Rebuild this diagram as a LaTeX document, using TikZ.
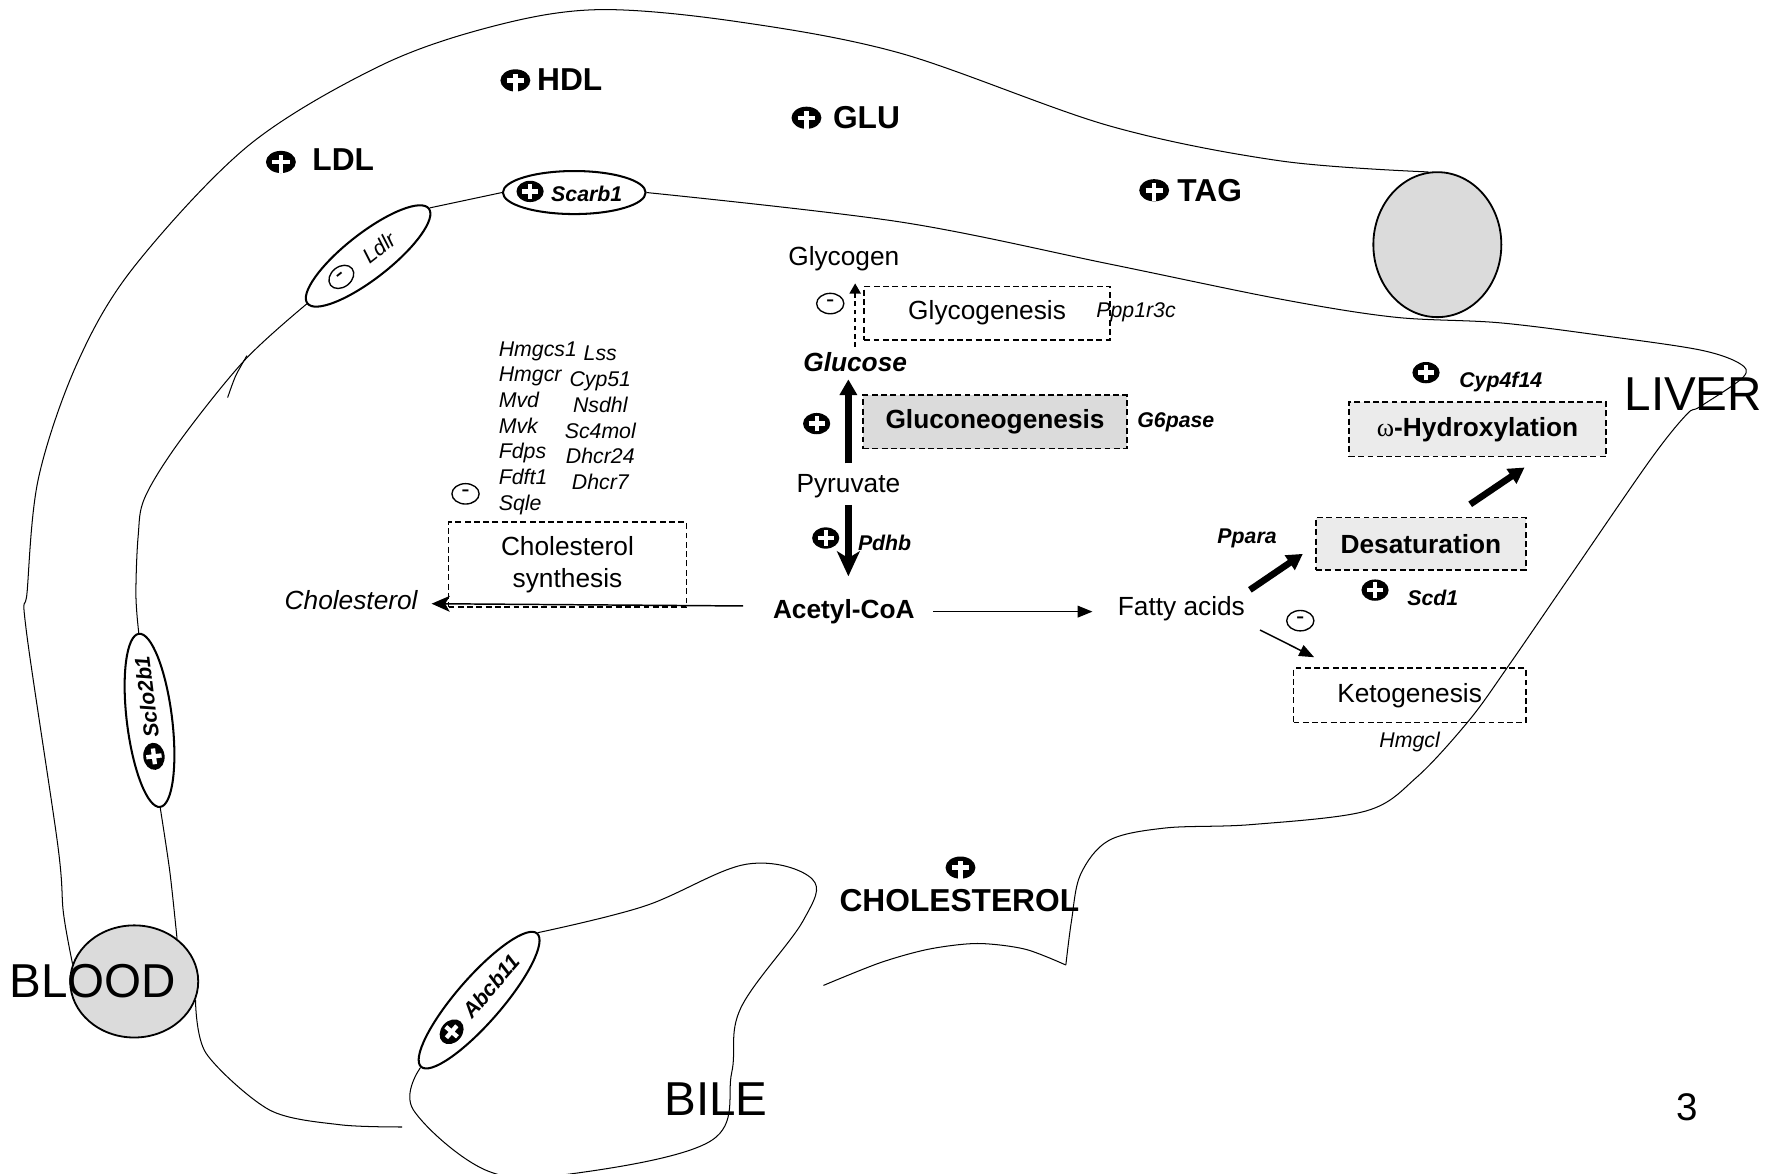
\documentclass[tikz,border=0pt]{standalone}
\usepackage{fontspec}
\setmainfont{Liberation Sans}
\newfontfamily\greekfont{Liberation Serif}
\usetikzlibrary{shapes,positioning,arrows.meta,calc}

\begin{document}
\begin{tikzpicture}[x=0.5pt, y=-0.5pt,
		txt/.style={inner sep=1pt, font=\fontsize{11.6}{14}\selectfont},
		boldtxt/.style={inner sep=1pt, font=\fontsize{11.6}{14}\selectfont\bfseries},
		gene/.style={inner sep=1pt, font=\fontsize{9.4}{11.35}\selectfont\itshape},
		bgene/.style={inner sep=1pt, font=\fontsize{9.4}{11.35}\selectfont\bfseries\itshape},
		bigbold/.style={inner sep=1pt, font=\fontsize{14}{16}\selectfont\bfseries},
		organ/.style={inner sep=0pt, font=\fontsize{21}{24}\selectfont},
		procbox/.style={rectangle, draw=black, line width=0.75pt, dash pattern=on 2.6pt off 1.5pt, inner sep=0pt, minimum height=23.5pt, font=\fontsize{11.6}{14}\selectfont},
		grayproc/.style={procbox, fill=black!8, font=\fontsize{11.6}{14}\selectfont\bfseries},
		transporter/.style={ellipse, draw=black, line width=0.9pt, fill=white, inner sep=0pt, minimum height=19pt},
		lumen/.style={ellipse, draw=black, line width=0.8pt, fill=black!14, inner sep=0pt},
		minusnode/.style={ellipse, draw=black, line width=0.6pt, inner sep=0pt, minimum width=12pt, minimum height=9pt, font=\fontsize{11}{11}\selectfont},
		membrane/.style={draw=black, line width=0.45pt},
		thinpath/.style={draw=black, line width=0.65pt, -{Triangle[length=6.6pt,width=5.2pt]}},
		thickpath/.style={draw=black, line width=2.9pt, -{Triangle[length=7pt,width=7.5pt]}},
		dashpath/.style={draw=black, line width=0.6pt, dash pattern=on 2pt off 1.6pt, -{Triangle[length=4.5pt,width=5pt]}},
		plusmark/.pic={
			\fill[black] (0,0) ellipse (6pt and 4.7pt);
			\draw[white, line width=1.9pt] (-3.5pt,0) -- (3.5pt,0) (0,-3.4pt) -- (0,3.4pt);
		},
		plustop/.pic={
			\fill[black] (0,0) ellipse (6.6pt and 4.9pt);
			\draw[white, line width=2pt] (-3.8pt,0) -- (3.8pt,0) (0,-4.9pt) -- (0,3pt);
		}
		]
		\useasboundingbox (0,0) rectangle (1568,1036.5);
		
		% Lumina
		\node[lumen, minimum width=56.5pt, minimum height=49.5pt] (blood) at (118.5,866.5) {};
		\node[lumen, minimum width=56.5pt, minimum height=64pt] (vessel) at (1269,216) {};
		
		% Transporters
		\begin{scope}[shift={(325,226)}, rotate=38, transform shape]
			\node[transporter, minimum width=68pt, minimum height=20pt] (ldlr) at (0,0) {};
			\node[minusnode] (ldlrminus) at (-15pt,0) {-};
			\node[gene] (ldlrname) at (6pt,0) {Ldlr};
		\end{scope}
		\node[transporter, minimum width=63pt] (scarb) at (507,170) {};
		\pic at (468,169) {plusmark};
		\node[bgene] (scarbname) at (518,171) {Scarb1};
		\begin{scope}[shift={(132,636)}, rotate=97, transform shape]
			\node[transporter, minimum width=77pt, minimum height=20pt] (sclo) at (0,0) {};
			\pic at (-16pt,0) {plusmark};
			\node[bgene] (scloname) at (10.5pt,0) {Sclo2b1};
		\end{scope}
		\begin{scope}[shift={(423,883)}, rotate=49, transform shape]
			\node[transporter, minimum width=78pt, minimum height=20pt] (abcb) at (0,0) {};
			\pic at (-18.5pt,0) {plusmark};
			\node[bgene] (abcbname) at (8pt,0) {Abcb11};
		\end{scope}
		
		% Walls
		\draw[membrane] plot[smooth, tension=0.55] coordinates {(blood.164) (56,806) (51,746) (23,555) (24,522) (34,422) (68,321) (118,236) (220,128) (338,57) (440,22) (530,8.5) (650,19) (795,47) (979,111) (1130,142) (vessel.97)};
		\draw[membrane] plot[smooth] coordinates {(blood.45) (150,770) (sclo.west)};
		\draw[membrane] plot[smooth, tension=0.55] coordinates {(sclo.east) (120,525) (122,473) (128,439) (159,389) (216,318) (ldlr.west)};
		\draw[membrane] plot[smooth] coordinates {(218,314) (208,332) (201,351)};
		\draw[membrane] (ldlr.east) -- (scarb.west);
		\draw[membrane] plot[smooth, tension=0.55] coordinates {(scarb.east) (795,196) (979,233) (1130,264) (1231,280) (1324,285) (1420,297) (1501,309) (1536,321) (1539,333) (1501,359) (1489,366) (1457,406) (1386,509) (1331,589) (1297,636) (1251,686) (1206,716) (1105,728) (1029,731) (979,742) (954,772) (946,813) (941,852)};
		\draw[membrane] plot[smooth] coordinates {(941,852) (905,838) (863,833) (820,838) (777,850) (727,870)};
		\draw[membrane] plot[smooth] coordinates {(blood.-17) (182,930) (238,980) (300,993) (355,995)};
		\draw[membrane] plot[smooth, tension=0.6] coordinates {(abcb.east) (569,800) (659,763) (717,776) (709,813) (654,890) (646,947) (628,1007) (507,1036) (431,1034) (365,980) (abcb.west)};
		
		% Compartment labels
		\node[organ] (bloodlbl) at (82,866) {BLOOD};
		\node[organ] (bilelbl) at (632,970) {BILE};
		\node[organ] (liverlbl) at (1495,348) {LIVER};
		\node[inner sep=0pt, font=\fontsize{17}{20}\selectfont] (pagenum) at (1490,978) {3};
		
		% Plasma levels
		\pic at (455,71) {plustop};
		\node[bigbold] (hdl) at (503,70) {HDL};
		\pic at (248,143) {plustop};
		\node[bigbold] (ldl) at (303,141) {LDL};
		\pic at (712,104) {plustop};
		\node[bigbold] (glu) at (765,104) {GLU};
		\pic at (1019,168) {plustop};
		\node[bigbold] (tag) at (1068,168) {TAG};
		\pic at (848,766) {plustop};
		\node[bigbold] (biliary) at (847,795) {CHOLESTEROL};
		
		% Nodes
		\node[txt] (glycogen) at (745,228) {Glycogen};
		\node[procbox, minimum width=108.5pt] (glycobox) at (871.5,276.5) {Glycogenesis};
		\node[gene] (ppp) at (1003,276) {Ppp1r3c};
		\node[inner sep=1pt, font=\fontsize{11.6}{14}\selectfont\bfseries\itshape] (glucose) at (755,320) {Glucose};
		\node[grayproc, fill=black!14, minimum width=116.5pt] (gluconeo) at (878.5,372.5) {Gluconeogenesis};
		\node[bgene, right=3pt of gluconeo] (g6pase) {G6pase};
		\node[txt] (pyruvate) at (749,429) {Pyruvate};
		\node[bgene] (pdhb) at (781,479) {Pdhb};
		\node[boldtxt] (acetyl) at (745,540) {Acetyl-CoA};
		\node[procbox, minimum width=105pt, minimum height=37.5pt, align=center] (cholsynth) at (501,498.5) {Cholesterol\\synthesis};
		\node[inner sep=1pt, font=\fontsize{11.6}{14}\selectfont\itshape] (cholesterol) at (310,530) {Cholesterol};
		\node[gene, align=left, anchor=west] (cholgenesA) at (438,378) {Hmgcs1\\Hmgcr\\Mvd\\Mvk\\Fdps\\Fdft1\\Sqle};
		\node[gene, align=center] (cholgenesB) at (530,369) {Lss\\Cyp51\\Nsdhl\\Sc4mol\\Dhcr24\\Dhcr7};
		\node[txt] (fatty) at (1043,537) {Fatty acids};
		\node[bgene] (ppara) at (1101,475) {Ppara};
		\node[grayproc, minimum width=92.5pt, minimum height=23pt] (desat) at (1254.5,480) {Desaturation};
		\node[bgene] (scd) at (1265,528) {Scd1};
		\node[grayproc, minimum width=113.5pt, minimum height=24pt] (hydrox) at (1304.5,379) {{\greekfont\mdseries ω}-Hydroxylation};
		\node[bgene] (cyp) at (1325,337) {Cyp4f14};
		\node[procbox, minimum width=102.5pt, minimum height=24pt] (keto) at (1244.5,614) {Ketogenesis};
		\node[gene, below=2.5pt of keto] (hmgcl) {Hmgcl};
		
		% Regulation marks
		\node[minusnode] (glycominus) at (733,268) {-};
		\node[minusnode] (cholminus) at (411,436) {-};
		\node[minusnode] (ketominus) at (1148,548) {-};
		\pic at (721,374) {plusmark};
		\pic at (729,475) {plusmark};
		\pic at (1214,521) {plusmark};
		\pic at (1259,329) {plusmark};
		
		% Main Paths
		\draw[dashpath, shorten <=1.5pt, shorten >=4.5pt] (glucose.north) -- (glucose.north |- glycogen.south);
		\draw[thickpath, shorten <=3.5pt, shorten >=2pt] (pyruvate.north) -- (pyruvate.north |- glucose.south);
		\draw[thickpath, -{Stealth[length=11pt,width=10pt,inset=3pt]}, shorten <=2pt, shorten >=9pt] (pyruvate.south) -- (pyruvate.south |- acetyl.north);
		\draw[thinpath] ([xshift=7pt]acetyl.east) -- ($(acetyl.east -| fatty.west)+(-10pt,0)$);
		\draw[draw=black, line width=0.65pt, -{Stealth[length=8pt,width=7pt,inset=2pt]}] ([shift={(-12pt,2.5pt)}]acetyl.west) -- ([shift={(5pt,-1.5pt)}]cholesterol.east);
		
		% Fatty acid fate
		\draw[thickpath] ([shift={(1pt,1.5pt)}]fatty.north east) -- ([shift={(-5.5pt,-4.5pt)}]desat.west);
		\draw[thickpath] ([shift={(21.75pt,5.5pt)}]desat.north) -- ([shift={(20.75pt,-4.5pt)}]hydrox.south);
		\draw[thinpath] ([shift={(5.5pt,-3pt)}]fatty.south east) -- ([shift={(9.5pt,4.5pt)}]keto.north west);
	\end{tikzpicture}
\end{document}
